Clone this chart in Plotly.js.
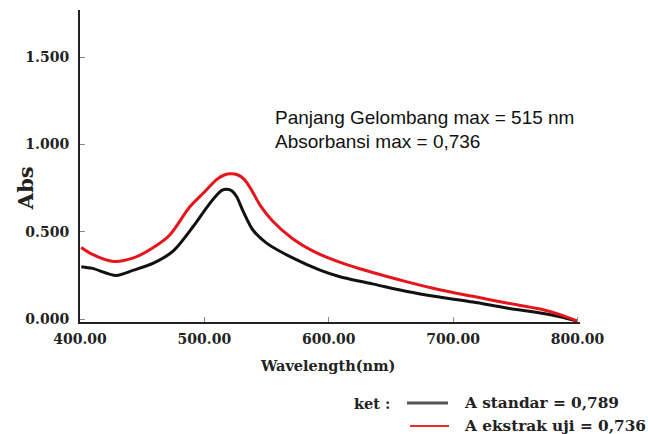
<!DOCTYPE html>
<html>
<head>
<meta charset="utf-8">
<script src="https://cdn.plot.ly/plotly-3.0.1.min.js"></script>
<style>html,body{margin:0;padding:0;background:#fff;}#chart{width:648px;height:434px;}</style>
</head>
<body>
<div id="chart"></div>
<script>
// Wavelength (nm) and absorbance
var wlStandar = [401, 410, 429, 443, 459, 475, 491, 502, 510, 514, 518, 522, 526, 531, 539, 550, 571, 593, 609, 625, 636, 663, 689, 716, 743, 770, 786, 800];
var absStandar = [0.30, 0.29, 0.25, 0.28, 0.32, 0.39, 0.53, 0.64, 0.71, 0.737, 0.744, 0.735, 0.70, 0.62, 0.51, 0.435, 0.35, 0.28, 0.242, 0.216, 0.2, 0.158, 0.126, 0.097, 0.063, 0.034, 0.013, -0.012];

var wlUji = [401, 410, 427, 443, 459, 472, 488, 499, 510, 516, 521, 527, 532, 537, 545, 555, 571, 587, 607, 625, 636, 663, 689, 716, 743, 770, 786, 800];
var absUji = [0.41, 0.37, 0.33, 0.35, 0.41, 0.48, 0.64, 0.72, 0.80, 0.825, 0.832, 0.825, 0.80, 0.75, 0.65, 0.56, 0.46, 0.39, 0.33, 0.288, 0.265, 0.213, 0.168, 0.13, 0.092, 0.057, 0.025, -0.012];

var xTicks = [400, 500, 600, 700, 800];
var yTicks = [0, 0.5, 1.0, 1.5];

var legendNames = ["A standar = 0,789", "A ekstrak uji = 0,736"];
var noteLines = ["Panjang Gelombang max = 515 nm", "Absorbansi max = 0,736"];

var serif = "DejaVu Serif";

var traces = [
  {x: wlStandar, y: absStandar, type: "scatter", mode: "lines",
   line: {color: "#111111", width: 3, shape: "spline", smoothing: 0.8}, showlegend: false, hoverinfo: "skip"},
  {x: wlUji, y: absUji, type: "scatter", mode: "lines",
   line: {color: "#e8141c", width: 3, shape: "spline", smoothing: 0.8}, showlegend: false, hoverinfo: "skip"}
];

var layout = {
  width: 648, height: 434,
  margin: {l: 80, r: 68, t: 10, b: 112},
  paper_bgcolor: "#ffffff", plot_bgcolor: "#ffffff",
  showlegend: false,
  xaxis: {
    range: [400, 802], tickvals: xTicks, tickformat: ".2f",
    showgrid: false, zeroline: false, showline: true, linecolor: "#222", linewidth: 2,
    ticks: "inside", ticklen: 5, tickcolor: "#888", tickwidth: 1,
    tickfont: {family: serif, size: 14, color: "#222", weight: "bold"},
    ticklabelstandoff: 3
  },
  yaxis: {
    range: [-0.017, 1.77], tickvals: yTicks, tickformat: ".3f",
    showgrid: false, zeroline: false, showline: true, linecolor: "#222", linewidth: 2,
    ticks: "inside", ticklen: 5, tickcolor: "#888", tickwidth: 1,
    tickfont: {family: serif, size: 14, color: "#222", weight: "bold"},
    ticklabelstandoff: 6
  },
  annotations: [
    {text: "Abs", xref: "paper", yref: "paper", x: -0.11, y: 0.429, textangle: -90,
     xanchor: "center", yanchor: "middle",
     showarrow: false, font: {family: serif, size: 21, color: "#222", weight: "bold"}},
    {text: "Wavelength(nm)", xref: "paper", yref: "paper", x: 0.494, y: -0.138,
     xanchor: "center", yanchor: "middle",
     showarrow: false, font: {family: serif, size: 14.5, color: "#222", weight: "bold"}},
    {text: noteLines[0], xref: "paper", yref: "paper", x: 0.386, y: 0.654, xanchor: "left", yanchor: "middle",
     showarrow: false, font: {family: "Liberation Sans", size: 19, color: "#111"}},
    {text: noteLines[1], xref: "paper", yref: "paper", x: 0.386, y: 0.577, xanchor: "left", yanchor: "middle",
     showarrow: false, font: {family: "Liberation Sans", size: 19, color: "#111"}},
    {text: "ket :", xref: "paper", yref: "paper", x: 0.624, y: -0.26, xanchor: "right", yanchor: "middle",
     showarrow: false, font: {family: serif, size: 14.5, color: "#222", weight: "bold"}},
    {text: legendNames[0], xref: "paper", yref: "paper", x: 0.764, y: -0.26, xanchor: "left", yanchor: "middle",
     showarrow: false, font: {family: serif, size: 15.3, color: "#222", weight: "bold"}},
    {text: legendNames[1], xref: "paper", yref: "paper", x: 0.764, y: -0.333, xanchor: "left", yanchor: "middle",
     showarrow: false, font: {family: serif, size: 15.3, color: "#222", weight: "bold"}}
  ],
  shapes: [
    {type: "line", xref: "paper", yref: "paper", x0: 0.654, x1: 0.736, y0: -0.26, y1: -0.26,
     line: {color: "#555555", width: 3}},
    {type: "line", xref: "paper", yref: "paper", x0: 0.66, x1: 0.738, y0: -0.333, y1: -0.333,
     line: {color: "#ee2a2a", width: 2}}
  ]
};

Plotly.newPlot("chart", traces, layout, {staticPlot: true, displayModeBar: false});
</script>
</body>
</html>
